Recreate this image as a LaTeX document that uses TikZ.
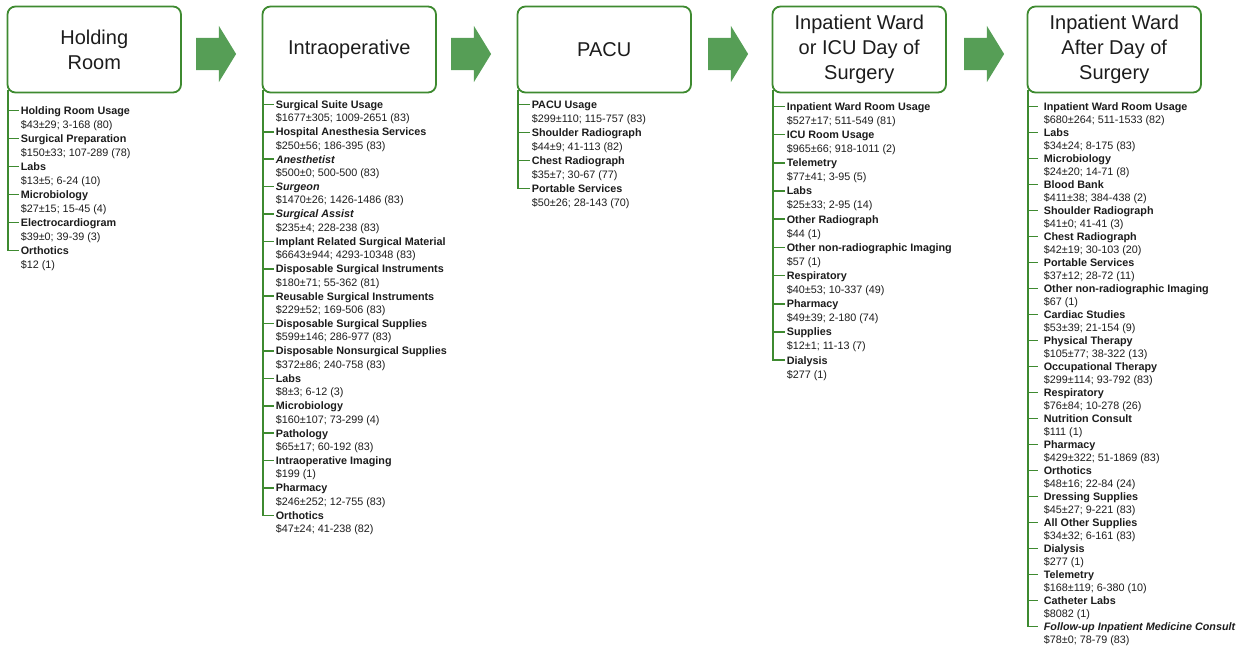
\documentclass[tikz,border=0pt]{standalone}
\usepackage{fontspec}
\setmainfont{Liberation Sans}
\usetikzlibrary{positioning,shapes.arrows}
\definecolor{stagegreen}{RGB}{62,138,48}
\definecolor{arrowgreen}{RGB}{86,158,86}
\definecolor{inkgray}{RGB}{28,28,28}

\begin{document}
\begin{tikzpicture}[x=1pt, y=-1pt,
    stage/.style = {draw=stagegreen, line width=1.8pt, rounded corners=8pt, minimum width=173.5pt, minimum height=86pt, inner sep=0pt, align=center, text=inkgray, font=\fontsize{20}{25}\selectfont},
    flow/.style = {single arrow, fill=arrowgreen, inner xsep=0pt, inner ysep=16pt, minimum height=40pt, single arrow head extend=12pt, single arrow tip angle=117},
    branch/.style = {draw=stagegreen, line width=1.6pt},
    costname/.style = {anchor=west, inner xsep=2pt, inner ysep=0pt, text height=7.7pt, text depth=0pt, text=inkgray, font=\fontsize{10.8}{13}\selectfont\bfseries},
    costvalue/.style = {costname, font=\fontsize{10.8}{13}\selectfont}]
    \useasboundingbox (0,0) rectangle (1242,647);

    % stages
    \node[stage] (hold) at (94.25,49.5) {Holding\\Room};
    \node[stage, right=79.7pt of hold] (intra) {Intraoperative};
    \node[stage, right=79.7pt of intra] (pacu) {PACU};
    \node[stage, right=79.7pt of pacu] (ward) {Inpatient Ward\\or ICU Day of\\Surgery};
    \node[stage, right=79.7pt of ward] (after) {Inpatient Ward\\After Day of\\Surgery};

    % arrows between stages
    \node[flow, right=14pt of hold, yshift=-4.5pt] (a1) {};
    \node[flow, right=14pt of intra, yshift=-4.5pt] (a2) {};
    \node[flow, right=16pt of pacu, yshift=-4.5pt] (a3) {};
    \node[flow, right=17pt of ward, yshift=-4.5pt] (a4) {};

    % roots of the cost trees
    \coordinate (holdroot) at ([xshift=1.5pt, yshift=3.5pt]hold.south west);
    \coordinate (intraroot) at ([xshift=1.5pt, yshift=3.5pt]intra.south west);
    \coordinate (pacuroot) at ([xshift=1.5pt, yshift=3.5pt]pacu.south west);
    \coordinate (wardroot) at ([xshift=1.5pt, yshift=3.5pt]ward.south west);
    \coordinate (afterroot) at ([xshift=1.5pt, yshift=3.5pt]after.south west);

    % holding room
    \foreach \name/\cost [count=\n] in {
        Holding Room Usage/\$43±29; 3-168 (80),
        Surgical Preparation/\$150±33; 107-289 (78),
        Labs/\$13±5; 6-24 (10),
        Microbiology/\$27±15; 15-45 (4),
        Electrocardiogram/\$39±0; 39-39 (3),
        Orthotics/\$12 (1)} {
        \node[costname] (h\n) at ([xshift=12pt, yshift={-17pt-(\n-1)*28pt}]hold.south west) {\name};
        \node[costvalue] (hv\n) at ([yshift=-14pt]h\n.west) {\cost};
        \draw[branch] (h\n.west -| holdroot) -- (h\n.west);
    }
    \draw[branch] (holdroot) |- (h6.west);

    % intraoperative
    \foreach \name/\cost [count=\n] in {
        Surgical Suite Usage/\$1677±305; 1009-2651 (83),
        Hospital Anesthesia Services/\$250±56; 186-395 (83),
        {\itshape Anesthetist}/\$500±0; 500-500 (83),
        {\itshape Surgeon}/\$1470±26; 1426-1486 (83),
        {\itshape Surgical Assist}/\$235±4; 228-238 (83),
        Implant Related Surgical Material/\$6643±944; 4293-10348 (83),
        Disposable Surgical Instruments/\$180±71; 55-362 (81),
        Reusable Surgical Instruments/\$229±52; 169-506 (83),
        Disposable Surgical Supplies/\$599±146; 286-977 (83),
        Disposable Nonsurgical Supplies/\$372±86; 240-758 (83),
        Labs/\$8±3; 6-12 (3),
        Microbiology/\$160±107; 73-299 (4),
        Pathology/\$65±17; 60-192 (83),
        Intraoperative Imaging/\$199 (1),
        Pharmacy/\$246±252; 12-755 (83),
        Orthotics/\$47±24; 41-238 (82)} {
        \node[costname] (i\n) at ([xshift=12pt, yshift={-11pt-(\n-1)*27.4pt}]intra.south west) {\name};
        \node[costvalue] (iv\n) at ([yshift=-13.5pt]i\n.west) {\cost};
        \draw[branch] (i\n.west -| intraroot) -- (i\n.west);
    }
    \draw[branch] (intraroot) |- (i16.west);

    % pacu
    \foreach \name/\cost [count=\n] in {
        PACU Usage/\$299±110; 115-757 (83),
        Shoulder Radiograph/\$44±9; 41-113 (82),
        Chest Radiograph/\$35±7; 30-67 (77),
        Portable Services/\$50±26; 28-143 (70)} {
        \node[costname] (p\n) at ([xshift=13pt, yshift={-11pt-(\n-1)*28pt}]pacu.south west) {\name};
        \node[costvalue] (pv\n) at ([yshift=-14pt]p\n.west) {\cost};
        \draw[branch] (p\n.west -| pacuroot) -- (p\n.west);
    }
    \draw[branch] (pacuroot) |- (p4.west);

    % ward or icu, day of surgery
    \foreach \name/\cost [count=\n] in {
        Inpatient Ward Room Usage/\$527±17; 511-549 (81),
        ICU Room Usage/\$965±66; 918-1011 (2),
        Telemetry/\$77±41; 3-95 (5),
        Labs/\$25±33; 2-95 (14),
        Other Radiograph/\$44 (1),
        Other non-radiographic Imaging/\$57 (1),
        Respiratory/\$40±53; 10-337 (49),
        Pharmacy/\$49±39; 2-180 (74),
        Supplies/\$12±1; 11-13 (7),
        Dialysis/\$277 (1)} {
        \node[costname] (w\n) at ([xshift=13pt, yshift={-13pt-(\n-1)*28.2pt}]ward.south west) {\name};
        \node[costvalue] (wv\n) at ([yshift=-14pt]w\n.west) {\cost};
        \draw[branch] (w\n.west -| wardroot) -- (w\n.west);
    }
    \draw[branch] (wardroot) |- (w10.west);

    % ward after day of surgery
    \foreach \name/\cost [count=\n] in {
        Inpatient Ward Room Usage/\$680±264; 511-1533 (82),
        Labs/\$34±24; 8-175 (83),
        Microbiology/\$24±20; 14-71 (8),
        Blood Bank/\$411±38; 384-438 (2),
        Shoulder Radiograph/\$41±0; 41-41 (3),
        Chest Radiograph/\$42±19; 30-103 (20),
        Portable Services/\$37±12; 28-72 (11),
        Other non-radiographic Imaging/\$67 (1),
        Cardiac Studies/\$53±39; 21-154 (9),
        Physical Therapy/\$105±77; 38-322 (13),
        Occupational Therapy/\$299±114; 93-792 (83),
        Respiratory/\$76±84; 10-278 (26),
        Nutrition Consult/\$111 (1),
        Pharmacy/\$429±322; 51-1869 (83),
        Orthotics/\$48±16; 22-84 (24),
        Dressing Supplies/\$45±27; 9-221 (83),
        All Other Supplies/\$34±32; 6-161 (83),
        Dialysis/\$277 (1),
        Telemetry/\$168±119; 6-380 (10),
        Catheter Labs/\$8082 (1),
        {\itshape Follow-up Inpatient Medicine Consult}/\$78±0; 78-79 (83)} {
        \node[costname, inner xsep=6pt] (f\n) at ([xshift=11pt, yshift={-13pt-(\n-1)*26pt}]after.south west) {\name};
        \node[costvalue, inner xsep=6pt] (fv\n) at ([yshift=-13pt]f\n.west) {\cost};
        \draw[branch] (f\n.west -| afterroot) -- (f\n.west);
    }
    \draw[branch] (afterroot) |- (f21.west);
\end{tikzpicture}
\end{document}
